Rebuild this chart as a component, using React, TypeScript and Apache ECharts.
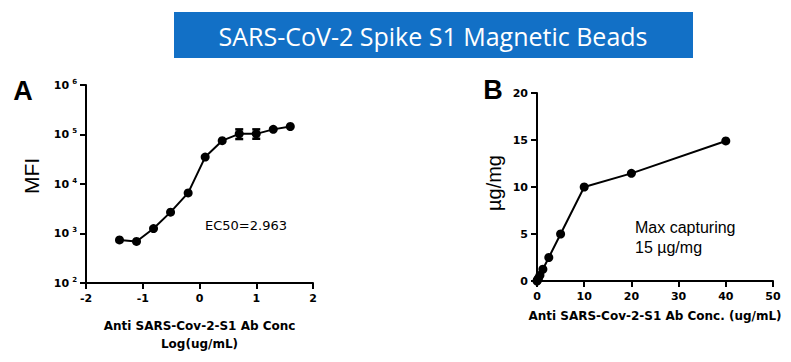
import React, { useEffect, useRef } from "react";
import * as echarts from "echarts";

// Panel A: log10 concentration vs MFI
const logConcA = [-1.41, -1.11, -0.81, -0.51, -0.2, 0.1, 0.4, 0.7, 1.0, 1.3, 1.6];
const mfiA = [740, 690, 1260, 2700, 6600, 35000, 75000, 103000, 103000, 127000, 145000];
const errXA = [0.7, 1.0];
const errLowA = [81000, 82000];
const errHighA = [127000, 127000];
const xTicksA = [-2, -1, 0, 1, 2];

// Panel B: concentration vs capture
const concB = [0, 0.078, 0.156, 0.3125, 0.625, 1.25, 2.5, 5, 10, 20, 40];
const capB = [0, 0.08, 0.15, 0.3, 0.6, 1.25, 2.5, 5, 10, 11.45, 14.9];

const titleText = "SARS-CoV-2 Spike S1 Magnetic Beads";
const xNameA = "Anti SARS-Cov-2-S1 Ab Conc\nLog(ug/mL)";
const xNameB = "Anti SARS-Cov-2-S1 Ab Conc. (ug/mL)";

const tickFont = { fontFamily: "DejaVu Sans", fontWeight: "bold" as const, fontSize: 11, color: "#000" };
const nameFont = { fontFamily: "DejaVu Sans", fontWeight: "bold" as const, fontSize: 12, color: "#000" };

export default function App() {
  const ref = useRef<HTMLDivElement>(null);
  useEffect(() => {
    if (!ref.current) return;
    const chart = echarts.init(ref.current, undefined, { renderer: "svg" });
    const axisLine = { show: true, onZero: false, lineStyle: { color: "#000", width: 2 } };
    const axisTick = { show: true, length: 6, lineStyle: { color: "#000", width: 2 } };
    chart.setOption({
      animation: false,
      backgroundColor: "#fff",
      grid: [
        { left: 86, top: 85, width: 227, height: 198 },
        { left: 537, top: 93, width: 236, height: 188 },
      ],
      xAxis: [
        {
          gridIndex: 0, type: "value", min: xTicksA[0], max: xTicksA[xTicksA.length - 1], interval: 1,
          axisLine, axisTick, splitLine: { show: false },
          axisLabel: { ...tickFont, margin: 10 },
          name: xNameA, nameLocation: "middle", nameGap: 34,
          nameTextStyle: { ...nameFont, lineHeight: 18 },
        },
        {
          gridIndex: 1, type: "value", min: 0, max: 50, interval: 10,
          axisLine, axisTick, splitLine: { show: false },
          axisLabel: { ...tickFont, margin: 10 },
          name: xNameB, nameLocation: "middle", nameGap: 21,
          nameTextStyle: { ...nameFont, lineHeight: 18 },
        },
      ],
      yAxis: [
        {
          gridIndex: 0, type: "log", logBase: 10, min: 100, max: 1000000,
          axisLine, axisTick, splitLine: { show: false }, minorTick: { show: false },
          axisLabel: {
            margin: 9,
            formatter: (v: number) => `{b|10}{s|${Math.round(Math.log10(v))}}`,
            rich: {
              b: { ...tickFont, lineHeight: 14 },
              s: { ...tickFont, fontSize: 7, lineHeight: 8, verticalAlign: "top", padding: [0, 0, 0, 3] },
            },
          },
        },
        {
          gridIndex: 1, type: "value", min: 0, max: 20, interval: 5,
          axisLine, axisTick, splitLine: { show: false },
          axisLabel: { ...tickFont, margin: 9 },
        },
      ],
      series: [
        {
          type: "line", xAxisIndex: 0, yAxisIndex: 0,
          data: logConcA.map((x, i) => [x, mfiA[i]]),
          symbol: "circle", symbolSize: 9,
          itemStyle: { color: "#000" }, lineStyle: { color: "#000", width: 2 },
        },
        {
          type: "custom", xAxisIndex: 0, yAxisIndex: 0,
          data: errXA.map((x, i) => [x, errLowA[i], errHighA[i]]),
          renderItem: (params: any, api: any) => {
            const x = api.value(0);
            const lo = api.coord([x, api.value(1)]);
            const hi = api.coord([x, api.value(2)]);
            const w = 4;
            const st = { stroke: "#000", lineWidth: 2.5 };
            return {
              type: "group",
              children: [
                { type: "line", shape: { x1: lo[0], y1: lo[1], x2: hi[0], y2: hi[1] }, style: st },
                { type: "line", shape: { x1: lo[0] - w, y1: lo[1], x2: lo[0] + w, y2: lo[1] }, style: st },
                { type: "line", shape: { x1: hi[0] - w, y1: hi[1], x2: hi[0] + w, y2: hi[1] }, style: st },
              ],
            };
          },
          z: 3,
        },
        {
          type: "line", xAxisIndex: 1, yAxisIndex: 1,
          data: concB.map((x, i) => [x, capB[i]]),
          symbol: "circle", symbolSize: 9,
          itemStyle: { color: "#000" }, lineStyle: { color: "#000", width: 2 },
        },
      ],
      graphic: [
        { type: "rect", shape: { x: 174, y: 12, width: 519, height: 46 }, style: { fill: "#1270c6" } },
        {
          type: "text", x: 433, y: 36,
          style: { text: titleText, fill: "#fff", font: "25px 'Open Sans'", align: "center", verticalAlign: "middle" },
        },
        {
          type: "text", x: 23, y: 91,
          style: { text: "A", fill: "#000", font: "bold 27px 'Liberation Sans'", align: "center", verticalAlign: "middle" },
        },
        {
          type: "text", x: 493, y: 90,
          style: { text: "B", fill: "#000", font: "bold 27px 'Liberation Sans'", align: "center", verticalAlign: "middle" },
        },
        {
          type: "text", x: 31, y: 176, rotation: Math.PI / 2,
          style: { text: "MFI", fill: "#000", font: "21px 'Liberation Sans'", align: "center", verticalAlign: "middle" },
        },
        {
          type: "text", x: 494, y: 183, rotation: Math.PI / 2,
          style: { text: "µg/mg", fill: "#000", font: "20px 'Liberation Sans'", align: "center", verticalAlign: "middle" },
        },
        {
          type: "text", x: 246, y: 225,
          style: { text: "EC50=2.963", fill: "#000", font: "13px 'DejaVu Sans'", align: "center", verticalAlign: "middle" },
        },
        {
          type: "text", x: 635, y: 237,
          style: { text: "Max capturing\n15 µg/mg", fill: "#000", font: "16px 'Liberation Sans'", lineHeight: 20, align: "left", verticalAlign: "middle" },
        },
      ],
    });
    return () => chart.dispose();
  }, []);
  return <div ref={ref} style={{ position: "fixed", left: 0, top: 0, width: 791, height: 362 }} />;
}
